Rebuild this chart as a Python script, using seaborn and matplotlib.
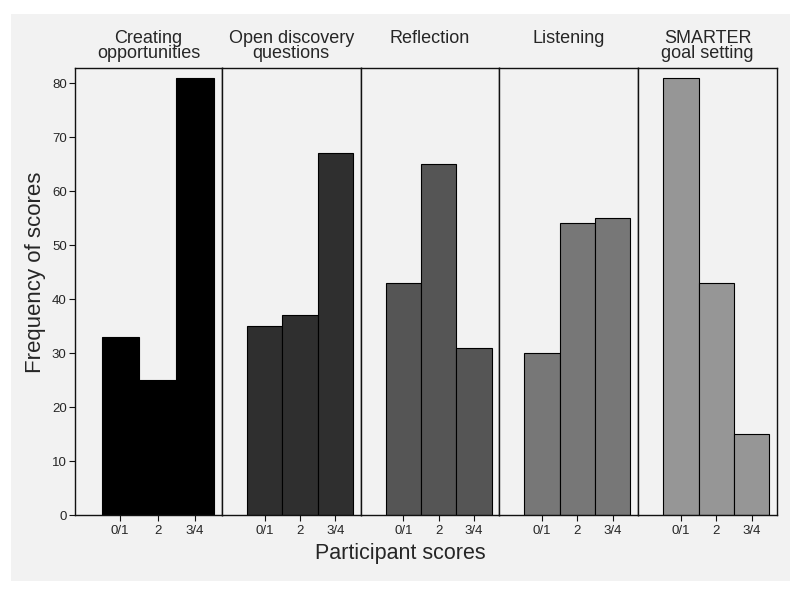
import pandas as pd
import matplotlib.pyplot as plt
import seaborn as sns
from matplotlib.patches import Rectangle

# Data
skills = ['Creating\nopportunities', 'Open discovery\nquestions', 'Reflection',
          'Listening', 'SMARTER\ngoal setting']
scores = ['0/1', '2', '3/4']
creating = [33, 25, 81]
open_q = [35, 37, 67]
reflection = [43, 65, 31]
listening = [30, 54, 55]
smarter = [81, 43, 15]
bar_colors = ['#000000', '#2f2f2f', '#555555', '#777777', '#969696']

values = [creating, open_q, reflection, listening, smarter]
rows = []
for skill, vals in zip(skills, values):
    for s, v in zip(scores, vals):
        rows.append({'skill': skill, 'score': s, 'freq': v})
df = pd.DataFrame(rows)

sns.set_theme(style='ticks')
plt.rcParams['font.family'] = ['Liberation Sans', 'DejaVu Sans']

BG = '#f2f2f2'
fig, axes = plt.subplots(1, 5, figsize=(8, 5.92), dpi=100, sharey=True,
                         gridspec_kw={'width_ratios': [147, 139, 139, 139, 139]})
fig.patch.set_facecolor('white')
fig.subplots_adjust(left=75 / 800, right=777 / 800, bottom=1 - 515 / 592,
                    top=1 - 68 / 592, wspace=0)

# grey panel behind everything
fig.patches.append(Rectangle((11 / 800, 1 - 581 / 592), 779 / 800, 567 / 592,
                             transform=fig.transFigure, facecolor=BG,
                             edgecolor='none', zorder=-10))

for i, (ax, skill) in enumerate(zip(axes, skills)):
    sub = df[df['skill'] == skill]
    sns.barplot(data=sub, x='score', y='freq', ax=ax, color=bar_colors[i],
                saturation=1, width=1, edgecolor='black', linewidth=0.8,
                order=scores)
    ax.set_facecolor(BG)
    ax.set_xlim(-1.21, 2.72)
    ax.set_ylim(0, 82.8)
    ax.set_xlabel('')
    ax.set_ylabel('')
    for sp in ax.spines.values():
        sp.set_visible(True)
        sp.set_color('#111111')
        sp.set_linewidth(1.0)
    ax.tick_params(axis='x', length=4, width=0.8, labelsize=9.5, pad=3,
                   color='#111111')
    ax.text(0.5, 1.085, skill, transform=ax.transAxes, ha='center', va='top',
            fontsize=13, linespacing=0.85)
    if i == 0:
        ax.set_yticks(range(0, 81, 10))
        ax.tick_params(axis='y', length=4, width=0.8, labelsize=9.5, pad=2,
                       color='#111111')
    else:
        ax.tick_params(axis='y', left=False, labelleft=False)

fig.text(36 / 800, 1 - 272 / 592, 'Frequency of scores', rotation=90,
         ha='center', va='center', fontsize=16)
fig.text(0.5, 1 - 553 / 592, 'Participant scores', ha='center', va='center',
         fontsize=15.5)

plt.savefig('out.png', dpi=100, facecolor=fig.get_facecolor())
